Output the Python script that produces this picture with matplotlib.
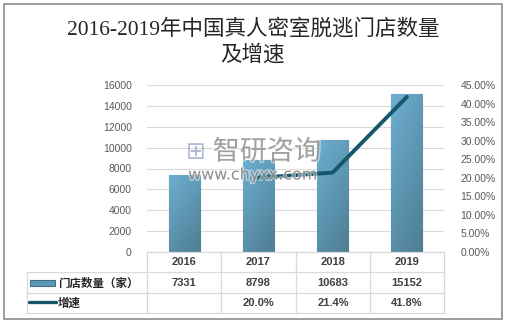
import numpy as np
import matplotlib
matplotlib.use("Agg")
import matplotlib.pyplot as plt
import matplotlib.patheffects as pe
from matplotlib.lines import Line2D
from matplotlib.patches import Rectangle
from matplotlib.ticker import FuncFormatter

years = ["2016", "2017", "2018", "2019"]
stores = [7331, 8798, 10683, 15152]
growth = [None, 20.0, 21.4, 41.8]
store_label = "门店数量（家）"
growth_label = "增速"
title = "2016-2019年中国真人密室脱逃门店数量\n及增速"

W, H = 506, 325
num_font = ["Liberation Sans", "Noto Sans CJK SC"]
grid_c = "#D9D9D9"
txt_c = "#595959"
line_c = "#15576B"

fig = plt.figure(figsize=(W / 100, H / 100), dpi=100)
fig.patch.set_facecolor("white")

def fx(px):
    return px / W

def fy(py):
    return 1 - py / H

# outer frame
fig.add_artist(Rectangle((fx(4), fy(319)), fx(498), 315 / H, transform=fig.transFigure,
                         fill=False, edgecolor="#8C8C8C", lw=1.2))

fig.text(fx(253), fy(42), title, ha="center", va="center", fontsize=15.5,
         family=["Liberation Serif", "Noto Sans CJK SC"], color="#262626", linespacing=1.35)

x0, x1, ytop, ybot = 147, 444, 85, 252
ax = fig.add_axes([fx(x0), fy(ybot), fx(x1 - x0), (ybot - ytop) / H])
x = np.arange(len(years))
ax.set_xticks([])
for s in ax.spines.values():
    s.set_visible(False)
ax.grid(axis="y", color=grid_c, lw=0.8)
ax.set_axisbelow(True)
ax.tick_params(axis="y", length=0, pad=11, labelsize=7.5, labelcolor=txt_c)

bars = ax.bar(x, stores, width=0.42, color="#5C9BB8", edgecolor="#3F6E84", lw=0.8, zorder=2)
# diagonal shading on each bar
gy, gx = np.mgrid[0:1:60j, 0:1:20j]
shade = 0.65 * gy + 0.35 * (1 - gx)
cmap = matplotlib.colors.LinearSegmentedColormap.from_list("b", ["#4E7E93", "#6DAED0"])
for b in bars:
    im = ax.imshow(shade, cmap=cmap, aspect="auto", origin="lower",
                   extent=[b.get_x(), b.get_x() + b.get_width(), 0, b.get_height()], zorder=2.1)
    im.set_clip_path(b)
ax.set_xlim(-0.5, len(years) - 0.5)
ax.set_ylim(0, 16000)
ax.set_yticks(range(0, 16001, 2000))
for lb in ax.get_yticklabels():
    lb.set_family(num_font)

ax2 = ax.twinx()
ax2.set_ylim(0, 45)
ax2.set_yticks(range(0, 46, 5))
ax2.yaxis.set_major_formatter(FuncFormatter(lambda v, p: "%.2f%%" % v))
for s in ax2.spines.values():
    s.set_visible(False)
ax2.tick_params(axis="y", length=0, pad=12, labelsize=7.5, labelcolor=txt_c)
for lb in ax2.get_yticklabels():
    lb.set_family(num_font)
gx_pts = [i for i, g in enumerate(growth) if g is not None]
gy_pts = [g for g in growth if g is not None]
ax2.plot(gx_pts, gy_pts, color=line_c, lw=2.8, solid_capstyle="round", zorder=3)

# watermark
halo = [pe.withStroke(linewidth=2, foreground="white", alpha=0.5)]
fig.text(fx(196), fy(152), "⊞", fontsize=17, color="#8E9FC4", alpha=0.7, ha="center", va="center",
         family=["DejaVu Sans"], zorder=10)
fig.text(fx(267), fy(152), "智研咨询", fontsize=19.5, color="#7A7A7A", alpha=0.6,
         ha="center", va="center", family=["Noto Sans CJK SC"], zorder=10, path_effects=halo)
fig.text(fx(253), fy(175), "www.chyxx.com", fontsize=11.5, color="#6A6A6A", alpha=0.65,
         ha="center", va="center", family=["DejaVu Sans"], zorder=10, path_effects=halo)

# data table
cols = [147, 221, 296, 370, 444]
rows = [252, 272, 293, 313]
def hline(y, xa, xb):
    fig.add_artist(Line2D([fx(xa), fx(xb)], [fy(y), fy(y)], color=grid_c, lw=0.9))
def vline(xv, ya, yb):
    fig.add_artist(Line2D([fx(xv), fx(xv)], [fy(ya), fy(yb)], color=grid_c, lw=0.9))
hline(rows[0], cols[0], cols[-1])
for r in rows[1:]:
    hline(r, 27, cols[-1])
vline(27, rows[1], rows[3])
for c in cols:
    vline(c, rows[0], rows[3])

tc = "#404040"
for i, yr in enumerate(years):
    cx = (cols[i] + cols[i + 1]) / 2
    fig.text(fx(cx), fy(262), yr, ha="center", va="center", fontsize=8, color=tc,
             family=num_font, weight="bold")
    fig.text(fx(cx), fy(283), str(stores[i]), ha="center", va="center", fontsize=8, color=tc,
             family=num_font, weight="bold")
    if growth[i] is not None:
        fig.text(fx(cx), fy(303), "%.1f%%" % growth[i], ha="center", va="center", fontsize=8,
                 color=tc, family=num_font, weight="bold")

fig.add_artist(Rectangle((fx(30), fy(286)), fx(25), 6 / H, transform=fig.transFigure,
                         facecolor="#5C9BB8", edgecolor="#3F6E84", lw=0.8))
fig.add_artist(Line2D([fx(29), fx(56)], [fy(302), fy(302)], color=line_c, lw=2.4,
                      solid_capstyle="round"))
fig.text(fx(58), fy(283), store_label, ha="left", va="center", fontsize=8.3, color="#262626",
         family=["Noto Sans CJK SC"], weight="bold")
fig.text(fx(58), fy(303), growth_label, ha="left", va="center", fontsize=8.3, color="#262626",
         family=["Noto Sans CJK SC"], weight="bold")

fig.savefig("out.png", dpi=100, facecolor="white")
